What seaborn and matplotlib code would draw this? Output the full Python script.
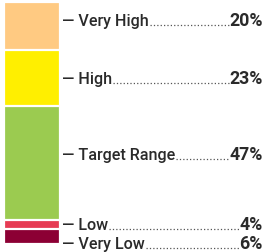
import matplotlib
matplotlib.use('Agg')
import matplotlib.pyplot as plt
import matplotlib.transforms as mtransforms
from matplotlib.lines import Line2D
import seaborn as sns

# Data
categories = ['Very High', 'High', 'Target Range', 'Low', 'Very Low']
percents = [20, 23, 47, 4, 6]
colors = ['#ffca82', '#ffef00', '#9bcb50', '#e63c54', '#8c0034']
label_nudge = [4.5, 0, 6, 0.5, -5]  # points, keeps labels from crowding

sns.set_theme(style='white')
plt.rcParams['font.family'] = ['Roboto', 'DejaVu Sans']

W, H = 262, 252
fig = plt.figure(figsize=(W / 100, H / 100), dpi=100)
ax = fig.add_axes([4 / W, 8 / H, 56 / W, 242 / H])

# top edge of each segment (stacked from the bottom)
tops = []
running = 0
for p in reversed(percents):
    running += p
    tops.append(running)
tops = tops[::-1]
bottoms = [t - p for t, p in zip(tops, percents)]

# tallest first so the shorter cumulative bars sit on top
for top, col in zip(tops, colors):
    sns.barplot(x=['tir'], y=[top], color=col, width=1, saturation=1,
                edgecolor='white', linewidth=1.6, ax=ax)
ax.set_xlim(-0.5, 0.5)
ax.set_ylim(0, 100)
ax.axis('off')

trans = mtransforms.blended_transform_factory(fig.transFigure, ax.transData)
txt_color = '#2a2a2a'
labels, pcts = [], []
for cat, pct, b, nudge in zip(categories, percents, bottoms, label_nudge):
    mid = b + pct / 2
    tr = mtransforms.offset_copy(trans, fig=fig, y=nudge - 4, units='points')
    lab = ax.text(62 / W, mid, '\u2014 ' + cat, transform=tr, ha='left', va='baseline',
                  fontsize=11.6, fontweight='medium', color=txt_color, clip_on=False)
    per = ax.text(263 / W, mid, f'{pct}%', transform=tr, ha='right', va='baseline',
                  fontsize=12.8, fontweight='bold', color=txt_color, clip_on=False)
    labels.append(lab)
    pcts.append(per)

# leader dots between label and value
fig.canvas.draw()
r = fig.canvas.get_renderer()
for lab, per in zip(labels, pcts):
    bl = lab.get_window_extent(r)
    bp = per.get_window_extent(r)
    x0 = (bl.x1 + 1) / W
    x1 = (bp.x0 - 1) / W
    yb = lab.get_transform().transform(lab.get_position())[1]
    y = (yb + 1) / H
    fig.add_artist(Line2D([x0, x1], [y, y], transform=fig.transFigure,
                          color='#555555', lw=0.9, linestyle=(0, (1, 1.7))))

plt.savefig('out.png', dpi=100)
